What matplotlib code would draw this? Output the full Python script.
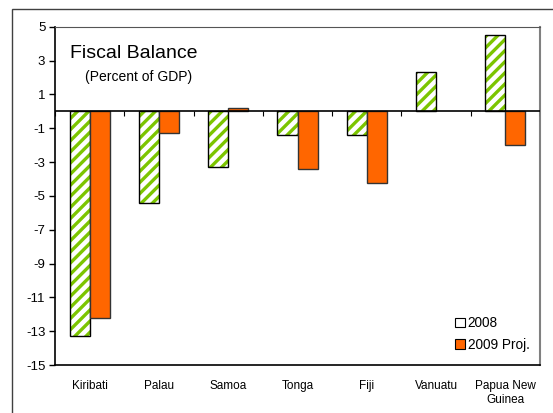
import matplotlib.pyplot as plt
import numpy as np
from matplotlib.patches import Patch, Rectangle

plt.rcParams['font.family'] = ['Liberation Sans', 'DejaVu Sans']
plt.rcParams['axes.unicode_minus'] = False
plt.rcParams['hatch.linewidth'] = 2.4

countries = ['Kiribati', 'Palau', 'Samoa', 'Tonga', 'Fiji', 'Vanuatu', 'Papua New\nGuinea']
bal_2008 = [-13.3, -5.45, -3.28, -1.43, -1.38, 2.3, 4.5]
bal_2009 = [-12.2, -1.3, 0.22, -3.4, -4.23, np.nan, -1.99]

GREEN = '#7cc500'
ORANGE = '#ff6600'

fig = plt.figure(figsize=(5.53, 4.13), dpi=100)
ax = fig.add_axes([0.0995, 0.1162, 0.877, 0.8191])

# outer frame, runs off the right and bottom edges
fig.patches.append(Rectangle((12 / 553, -0.1), 1.2, 1.1 - 9 / 413,
                             transform=fig.transFigure, fill=False,
                             edgecolor='#404040', linewidth=1.0))

x = np.arange(len(countries))
w = 0.29

# 2008: green stripes on white, black outline drawn separately
ax.bar(x - w / 2, bal_2008, w, color='white', edgecolor=GREEN, hatch='///',
       linewidth=0, zorder=2)
ax.bar(x - w / 2, bal_2008, w, fill=False, edgecolor='black', linewidth=1.0,
       zorder=3)
ax.bar(x + w / 2, bal_2009, w, color=ORANGE, edgecolor='#333333',
       linewidth=1.0, zorder=3)

ax.set_xlim(-0.5, len(countries) - 0.5)
ax.set_ylim(-15, 5)
ax.set_yticks(np.arange(-15, 6, 2))
ax.tick_params(axis='y', labelsize=9.5, length=4, width=1, direction='out', pad=3)
ax.set_xticks(x)
ax.set_xticklabels(countries, fontsize=8.5)
ax.tick_params(axis='x', length=0, pad=11)

# zero line with category separators
ax.axhline(0, color='black', linewidth=1.2, zorder=4)
ax.vlines(np.arange(len(countries) + 1) - 0.5, -0.25, 0, color='black',
          linewidth=0.8, zorder=4)

for side in ('left', 'bottom'):
    ax.spines[side].set_color('black')
    ax.spines[side].set_linewidth(1.2)
ax.spines['top'].set_color('#555555')
ax.spines['right'].set_color('#808080')
ax.spines['right'].set_linewidth(1.5)

ax.text(0.03, 0.945, 'Fiscal Balance', transform=ax.transAxes, fontsize=14,
        va='top', ha='left')
ax.text(0.062, 0.872, '(Percent of GDP)', transform=ax.transAxes, fontsize=10,
        va='top', ha='left')

handles = [Patch(facecolor='white', edgecolor='black', linewidth=0.8),
           Patch(facecolor=ORANGE, edgecolor='black', linewidth=0.8)]
ax.legend(handles, ['2008', '2009 Proj.'], loc='lower right', frameon=False,
          fontsize=9.8, handlelength=0.7, handleheight=0.7, handletextpad=0.2,
          labelspacing=0.55, borderaxespad=0.2, bbox_to_anchor=(0.995, 0.015))

fig.savefig('out.png', dpi=100)
